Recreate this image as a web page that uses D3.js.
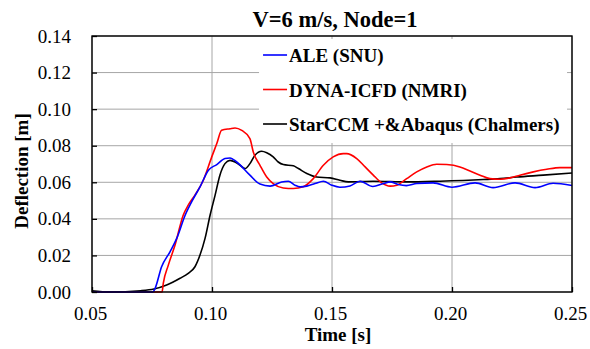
<!DOCTYPE html>
<meta charset="utf-8">
<html>
  <head>
    <style>
      body { margin: 0; background: #fff; }
      svg { font-family: "Liberation Serif", "Times New Roman", serif; }
      .grid line { stroke: #a6a6a6; stroke-width: 1px; }
      .axis text { font-size: 19px; fill: #000; font-family: "Liberation Serif", "Times New Roman", serif; }
      .axis path { display: none; }
      .axis line { stroke: #000; stroke-width: 1.3px; }
      .line { fill: none; stroke-width: 1.6px; }
    </style>
  </head>
  <body>
    <script src="https://d3js.org/d3.v7.min.js"></script>
    <script>

      // ALE (SNU)
      var aleT = [0.05, 0.0754, 0.0763, 0.079, 0.0825, 0.0853, 0.0888, 0.0915, 0.095, 0.0985, 0.102, 0.1054, 0.1075, 0.1103, 0.1158, 0.12, 0.1242, 0.129, 0.1318, 0.1346, 0.1367, 0.1395, 0.1429, 0.1464, 0.1499, 0.1533, 0.1575, 0.1617, 0.167, 0.1714, 0.1742, 0.1776, 0.181, 0.1853, 0.1921, 0.2, 0.2096, 0.2171, 0.2263, 0.2346, 0.2421, 0.25];
      var aleV = [0, 0, 0.002, 0.0138, 0.022, 0.0293, 0.042, 0.0493, 0.0575, 0.0666, 0.0697, 0.073, 0.0733, 0.0711, 0.0639, 0.059, 0.0579, 0.0602, 0.0606, 0.0584, 0.0575, 0.0579, 0.0593, 0.0606, 0.0584, 0.0573, 0.058, 0.0606, 0.0577, 0.0593, 0.0602, 0.0588, 0.0582, 0.0593, 0.0597, 0.0573, 0.0597, 0.0571, 0.0597, 0.0571, 0.0595, 0.0582];

      // DYNA-ICFD (NMRI)
      var dynaT = [0.05, 0.0792, 0.0797, 0.0818, 0.0846, 0.088, 0.0901, 0.0929, 0.0964, 0.0999, 0.102, 0.104, 0.1075, 0.1096, 0.1124, 0.1158, 0.1172, 0.12, 0.1228, 0.1255, 0.1297, 0.1339, 0.138, 0.1422, 0.1464, 0.1505, 0.1547, 0.1561, 0.1603, 0.1638, 0.1672, 0.1707, 0.1742, 0.177, 0.1811, 0.1853, 0.1895, 0.1936, 0.1978, 0.2033, 0.2075, 0.2117, 0.2158, 0.22, 0.2242, 0.2283, 0.2339, 0.2395, 0.245, 0.25];
      var dynaV = [0, 0, 0.0047, 0.0147, 0.0257, 0.042, 0.0475, 0.053, 0.0611, 0.0739, 0.0812, 0.0884, 0.0893, 0.0897, 0.0884, 0.0839, 0.0766, 0.0693, 0.0629, 0.0593, 0.0569, 0.0566, 0.0575, 0.062, 0.0693, 0.0739, 0.0757, 0.0757, 0.073, 0.0684, 0.0639, 0.0597, 0.0579, 0.0584, 0.062, 0.0657, 0.0684, 0.0699, 0.0697, 0.0684, 0.0662, 0.0639, 0.062, 0.0617, 0.0624, 0.0639, 0.0657, 0.0671, 0.068, 0.068];

      // StarCCM +&Abaqus (Chalmers)
      var starT = [0.05, 0.0575, 0.0703, 0.0758, 0.0811, 0.0867, 0.0901, 0.0929, 0.095, 0.0971, 0.0992, 0.1013, 0.1033, 0.1054, 0.1075, 0.1096, 0.1117, 0.1138, 0.1158, 0.1179, 0.1207, 0.1228, 0.1255, 0.1276, 0.1297, 0.1339, 0.136, 0.1395, 0.1436, 0.1492, 0.1533, 0.1568, 0.1672, 0.1811, 0.195, 0.213, 0.22, 0.227, 0.238, 0.25];
      var starV = [0.0007, 0, 0.0007, 0.0016, 0.0038, 0.0075, 0.0102, 0.0138, 0.0202, 0.0293, 0.042, 0.053, 0.0639, 0.0702, 0.072, 0.0711, 0.0693, 0.0675, 0.0702, 0.0748, 0.077, 0.0762, 0.0739, 0.0711, 0.0697, 0.069, 0.0675, 0.0648, 0.0629, 0.0624, 0.0611, 0.0602, 0.0606, 0.0602, 0.0606, 0.0615, 0.062, 0.0629, 0.0639, 0.0651];

      var xTicks = [0.05, 0.10, 0.15, 0.20, 0.25];
      var yTicks = [0, 0.02, 0.04, 0.06, 0.08, 0.10, 0.12, 0.14];
      var seriesNames = ["ALE (SNU)", "DYNA-ICFD (NMRI)", "StarCCM +&Abaqus (Chalmers)"];
      var seriesColors = ["#0000ff", "#ff0000", "#000000"];

      var margin = {top: 36, right: 18, bottom: 57, left: 92}
        , width = 590 - margin.left - margin.right
        , height = 349 - margin.top - margin.bottom;

      var x = d3.scaleLinear().domain([0.05, 0.25]).range([0, width]);
      var y = d3.scaleLinear().domain([0, 0.14]).range([height, 0]);

      var svg = d3.select("body").append("svg")
          .attr("width", 590)
          .attr("height", 349);

      var g = svg.append("g")
          .attr("transform", "translate(" + margin.left + "," + margin.top + ")");

      // gridlines
      g.append("g")
          .attr("class", "grid")
          .selectAll("line")
          .data(yTicks)
          .enter().append("line")
          .attr("x1", 0).attr("x2", width)
          .attr("y1", function(d) { return y(d); })
          .attr("y2", function(d) { return y(d); });

      g.append("g")
          .attr("class", "grid")
          .selectAll("line")
          .data(xTicks)
          .enter().append("line")
          .attr("y1", 0).attr("y2", height)
          .attr("x1", function(d) { return x(d); })
          .attr("x2", function(d) { return x(d); });

      // legend background covers the grid
      var lg = g.append("g").attr("transform", "translate(" + (x(0.1196)) + "," + 3 + ")");
      lg.append("rect")
          .attr("width", 308)
          .attr("height", 104)
          .attr("fill", "#fff");

      var series = [
        {t: starT, v: starV, c: seriesColors[2]},
        {t: dynaT, v: dynaV, c: seriesColors[1]},
        {t: aleT, v: aleV, c: seriesColors[0]}
      ];

      var valueline = d3.line()
          .x(function(d) { return x(d[0]); })
          .y(function(d) { return y(d[1]); })
          .curve(d3.curveMonotoneX);

      series.forEach(function(s) {
        g.append("path")
            .datum(d3.zip(s.t, s.v))
            .attr("class", "line")
            .attr("stroke", s.c)
            .attr("d", valueline);
      });

      // axes with inward ticks
      g.append("g")
          .attr("class", "axis")
          .attr("transform", "translate(0," + height + ")")
          .call(d3.axisBottom(x).tickValues(xTicks).tickFormat(d3.format(".2f"))
                .tickSize(-5).tickPadding(14.5))
          .attr("font-family", null)
          .selectAll("text").attr("dx", "-2");

      g.append("g")
          .attr("class", "axis")
          .call(d3.axisLeft(y).tickValues(yTicks).tickFormat(d3.format(".2f"))
                .tickSize(-5).tickPadding(21))
          .attr("font-family", null);

      g.append("rect")
          .attr("width", width)
          .attr("height", height)
          .attr("fill", "none")
          .attr("stroke", "#000")
          .attr("stroke-width", 1.4);

      // legend entries
      seriesNames.forEach(function(name, i) {
        var ly = 16 + i * 34.5;
        lg.append("line")
            .attr("x1", 4).attr("x2", 28)
            .attr("y1", ly).attr("y2", ly)
            .attr("stroke", seriesColors[i])
            .attr("stroke-width", 1.6);
        lg.append("text")
            .attr("x", 30)
            .attr("y", ly + 7)
            .style("font-size", "19px")
            .style("font-weight", "bold")
            .text(name);
      });

      svg.append("text")
          .attr("x", 335)
          .attr("y", 27)
          .attr("text-anchor", "middle")
          .style("font-size", "22.5px")
          .style("font-weight", "bold")
          .text("V=6 m/s, Node=1");

      svg.append("text")
          .attr("x", 338)
          .attr("y", 340.5)
          .attr("text-anchor", "middle")
          .style("font-size", "19px")
          .style("font-weight", "bold")
          .text("Time [s]");

      svg.append("text")
          .attr("transform", "translate(28,171) rotate(-90)")
          .attr("text-anchor", "middle")
          .style("font-size", "19px")
          .style("font-weight", "bold")
          .text("Deflection [m]");

    </script>
  </body>
</html>
